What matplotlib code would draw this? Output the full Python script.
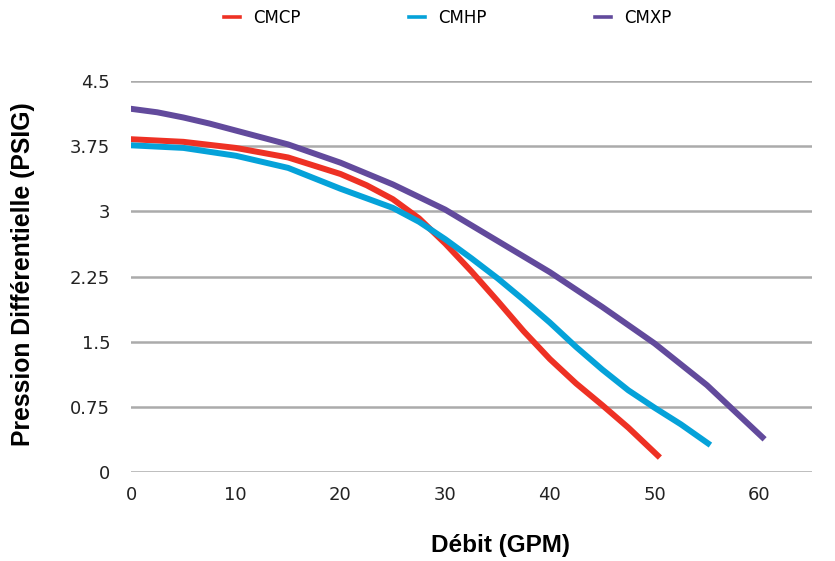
import matplotlib
matplotlib.use("Agg")
from matplotlib import pyplot as plt
from matplotlib.lines import Line2D

# Valeurs
debit_cmcp = [0, 5, 10, 15, 20, 22.5, 25, 27.5, 30, 32.5, 35, 37.5, 40, 42.5, 45, 47.5, 50.3]
pression_cmcp = [3.83, 3.80, 3.73, 3.62, 3.43, 3.30, 3.14, 2.92, 2.63, 2.31, 1.97, 1.62,
                 1.30, 1.02, 0.77, 0.51, 0.19]

debit_cmhp = [0, 5, 10, 15, 20, 25, 27.5, 30, 32.5, 35, 37.5, 40, 42.5, 45, 47.5, 50, 52.5, 55.1]
pression_cmhp = [3.76, 3.73, 3.64, 3.50, 3.26, 3.04, 2.88, 2.68, 2.46, 2.23, 1.98, 1.72,
                 1.44, 1.18, 0.94, 0.74, 0.55, 0.33]

debit_cmxp = [0, 2.5, 5, 7.5, 10, 15, 20, 25, 30, 35, 40, 45, 50, 55, 60.3]
pression_cmxp = [4.18, 4.14, 4.08, 4.01, 3.93, 3.77, 3.56, 3.31, 3.02, 2.66, 2.30, 1.90,
                 1.48, 1.00, 0.40]

series = ["CMCP", "CMHP", "CMXP"]
couleurs = ["#EE3124", "#05A2D9", "#624A9C"]

x_ticks = [0, 10, 20, 30, 40, 50, 60]
y_ticks = [0, 0.75, 1.5, 2.25, 3, 3.75, 4.5]
y_labels = ["0", "0.75", "1.5", "2.25", "3", "3.75", "4.5"]

fig = plt.figure(figsize=(8.35, 5.61), dpi=100)
ax = fig.add_axes([0.157, 0.1586, 0.815, 0.697])

donnees = [(debit_cmcp, pression_cmcp), (debit_cmhp, pression_cmhp), (debit_cmxp, pression_cmxp)]
for (x, y), nom, c in zip(donnees, series, couleurs):
    ax.plot(x, y, color=c, lw=4.3, label=nom, solid_joinstyle="round", zorder=3)

ax.set_xlim(0, 65)
ax.set_ylim(0, 4.5)
ax.set_xticks(x_ticks)
ax.set_yticks(y_ticks)
ax.set_yticklabels(y_labels)

for s in ax.spines.values():
    s.set_visible(False)
ax.grid(axis="y", color="#ABABAB", lw=1.8, zorder=0)
ax.set_axisbelow(True)
ax.tick_params(axis="both", length=0, labelsize=13, colors="#222222")
ax.tick_params(axis="x", pad=10)
ax.tick_params(axis="y", pad=15)

ax.set_xlabel("Débit (GPM)", fontfamily="Liberation Sans", fontweight="bold", fontsize=17.5)
ax.set_ylabel("Pression Différentielle (PSIG)", fontfamily="Liberation Sans",
              fontweight="bold", fontsize=17.8)
ax.xaxis.set_label_coords(0.543, -0.158)
ax.yaxis.set_label_coords(-0.141, 0.507)

# légende avec des traits plus fins
poignees = [Line2D([], [], color=c, lw=2.6) for c in couleurs]
fig.legend(poignees, series, loc="center", bbox_to_anchor=(0.536, 0.968), ncol=3,
           frameon=False, fontsize=12, handlelength=1.0, handletextpad=0.75,
           columnspacing=6.5)

plt.savefig("out.png", dpi=100)
